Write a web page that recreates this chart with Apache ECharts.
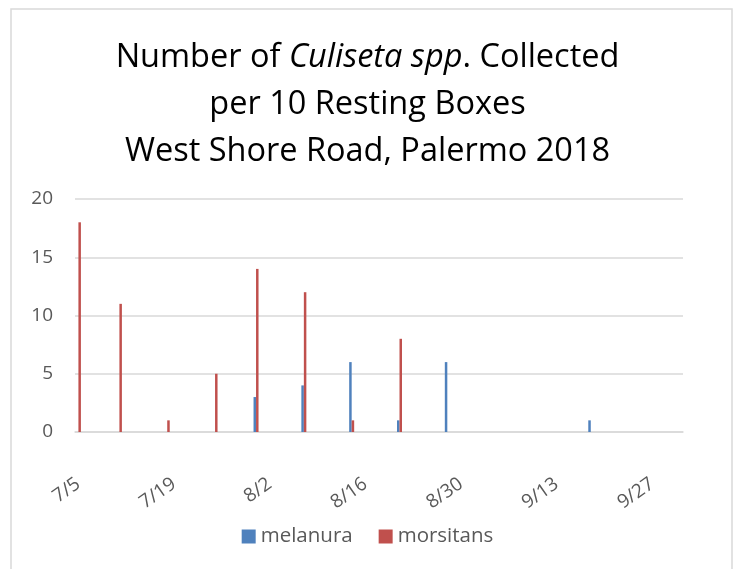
<!DOCTYPE html>
<html>
<head>
<meta charset="utf-8">
<script src="https://cdn.jsdelivr.net/npm/echarts@6/dist/echarts.min.js"></script>
<style>
  html, body { margin: 0; padding: 0; background: #fff; }
  #chart { width: 735px; height: 569px; }
</style>
</head>
<body>
<div id="chart"></div>
<script>
// collection dates and counts
const melanuraDates = ['7/31', '8/7', '8/14', '8/21', '8/28', '9/18'];
const melanuraValues = [3, 4, 6, 1, 6, 1];
const morsitansDates = ['7/5', '7/11', '7/18', '7/25', '7/31', '8/7', '8/14', '8/21'];
const morsitansValues = [18, 11, 1, 5, 14, 12, 1, 8];
const yTicks = [0, 5, 10, 15, 20];

// date axis: one slot per day, 7/5 .. 10/1 (2018)
let days = [];
let d = new Date(2018, 6, 5);
let end = new Date(2018, 9, 1);
while (d <= end) {
  days.push((d.getMonth() + 1) + '/' + d.getDate());
  d.setDate(d.getDate() + 1);
}

const font = 'Open Sans';
const grey = '#595959';

let myChart = echarts.init(document.getElementById('chart'));
let option = {
  backgroundColor: '#fff',
  textStyle: { fontFamily: font },
  color: ['#4F81BD', '#C0504D'],
  graphic: [{
    type: 'rect',
    shape: { x: 11, y: 9, width: 721, height: 600 },
    style: { fill: 'none', stroke: '#d9d9d9', lineWidth: 1.5 },
    silent: true
  }],
  title: {
    left: 'center',
    top: 29,
    text: '{a|Number of }{i|Culiseta spp}{a|. Collected}\n{a|per 10 Resting Boxes}\n{a|West Shore Road, Palermo 2018}',
    textStyle: {
      fontWeight: 'normal',
      rich: {
        a: { fontFamily: font, fontSize: 32.5, fontWeight: 'normal', color: '#000', lineHeight: 47 },
        i: { fontFamily: font, fontSize: 32.5, fontWeight: 'normal', color: '#000', fontStyle: 'italic', lineHeight: 47 }
      }
    }
  },
  legend: {
    bottom: 17,
    left: 'center',
    itemWidth: 14,
    itemHeight: 14,
    itemGap: 26,
    itemStyle: { borderWidth: 0 },
    textStyle: { fontFamily: font, fontSize: 20.5, color: grey },
    data: [{ name: 'melanura', icon: 'rect' }, { name: 'morsitans', icon: 'rect' }]
  },
  grid: {
    left: 75,
    right: 52,
    top: 199,
    bottom: 137
  },
  xAxis: {
    type: 'category',
    data: days,
    boundaryGap: true,
    axisTick: { show: false },
    axisLine: { lineStyle: { color: '#d9d9d9', width: 1.5 } },
    axisLabel: {
      interval: 13,
      rotate: 35,
      fontFamily: font,
      fontSize: 19,
      color: grey,
      margin: 50
    }
  },
  yAxis: {
    type: 'value',
    min: yTicks[0],
    max: yTicks[yTicks.length - 1],
    interval: 5,
    axisLine: { show: false },
    axisTick: { show: false },
    splitLine: { lineStyle: { color: '#d9d9d9', width: 1.5 } },
    axisLabel: { fontFamily: font, fontSize: 19, color: grey, margin: 22 }
  },
  series: [{
    name: 'melanura',
    type: 'bar',
    barWidth: 2.5,
    barGap: '0%',
    data: melanuraDates.map((x, i) => [x, melanuraValues[i]])
  }, {
    name: 'morsitans',
    type: 'bar',
    barWidth: 2.5,
    barGap: '0%',
    data: morsitansDates.map((x, i) => [x, morsitansValues[i]])
  }]
};
myChart.setOption(option);
window.onresize = myChart.resize;
</script>
</body>
</html>
